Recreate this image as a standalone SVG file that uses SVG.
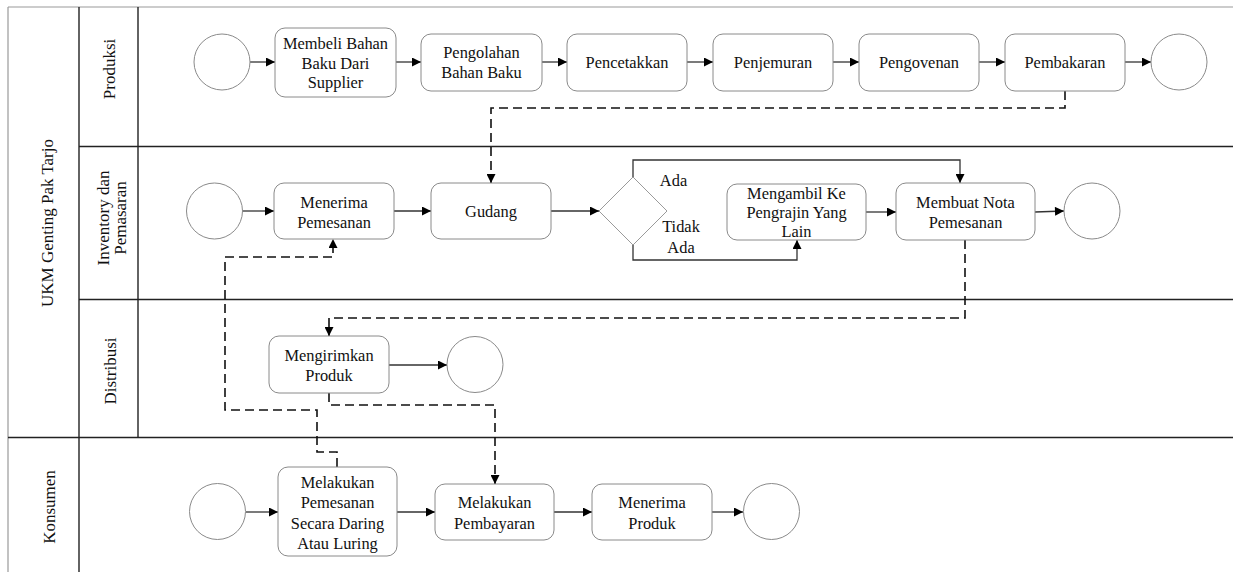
<svg xmlns="http://www.w3.org/2000/svg" width="1233" height="572" viewBox="0 0 1233 572">
<style>
text{font-family:"Liberation Serif","Times New Roman",serif;font-size:16.4px;fill:#111;text-anchor:middle;dominant-baseline:central}
.hd{font-size:17px}
.task{fill:#fff;stroke:#8a8a8a;stroke-width:1}
.ev{fill:#fff;stroke:#8a8a8a;stroke-width:1}
.gw{fill:#fff;stroke:#9a9a9a;stroke-width:1}
.lane{stroke:#222;stroke-width:1.4;fill:none}
.pool{stroke:#999;stroke-width:1.2;fill:none}
.flow{stroke:#333;stroke-width:1.3;fill:none;marker-end:url(#ah)}
.msg{stroke:#111;stroke-width:1.6;fill:none;stroke-dasharray:9 5;marker-end:url(#ah)}
</style>
<defs>
<marker id="ah" viewBox="0 0 10 10" refX="10" refY="5" markerWidth="10" markerHeight="9" markerUnits="userSpaceOnUse" orient="auto"><path d="M0,0 L10,5 L0,10 z" fill="#000"/></marker>
</defs>
<rect width="1233" height="572" fill="#fff"/>
<g id="pool">
<line class="pool" x1="8" y1="7" x2="1233" y2="7"/>
<line class="pool" x1="8" y1="7" x2="8" y2="572"/>
<line class="lane" x1="79" y1="7" x2="79" y2="572"/>
<line class="lane" x1="138" y1="7" x2="138" y2="437.5"/>
<line class="lane" x1="79" y1="146.5" x2="1233" y2="146.5"/>
<line class="lane" x1="79" y1="299.5" x2="1233" y2="299.5"/>
<line class="lane" x1="8" y1="437.5" x2="1233" y2="437.5"/>
<text class="hd" transform="translate(47,223) rotate(-90)">UKM Genting Pak Tarjo</text>
<text class="hd" transform="translate(109.5,69) rotate(-90)">Produksi</text>
<text class="hd" transform="translate(111.5,218) rotate(-90)"><tspan x="0" y="-8.5">Inventory dan</tspan><tspan x="0" y="8.5">Pemasaran</tspan></text>
<text class="hd" transform="translate(110,371) rotate(-90)">Distribusi</text>
<text class="hd" transform="translate(49,507) rotate(-90)">Konsumen</text>
</g>
<g id="connectors">
<path class="flow" d="M250,62 H275"/>
<path class="flow" d="M396,62 H421"/>
<path class="flow" d="M542,62 H567"/>
<path class="flow" d="M687,62 H713"/>
<path class="flow" d="M833,62 H859"/>
<path class="flow" d="M979,62 H1005"/>
<path class="flow" d="M1125,62 H1151"/>
<path class="flow" d="M242.5,211 H274"/>
<path class="flow" d="M394,211 H431"/>
<path class="flow" d="M551,211 H599"/>
<path class="flow" d="M633,177 V160 H960 V183"/>
<path class="flow" d="M633,245 V260 H797 V240"/>
<path class="flow" d="M866,212 H896"/>
<path class="flow" d="M1035,212 L1064,211"/>
<path class="flow" d="M389,365 H447"/>
<path class="flow" d="M246,512 H278"/>
<path class="flow" d="M397,512 H435"/>
<path class="flow" d="M554,512 H592"/>
<path class="flow" d="M712,512 H743"/>
<path class="msg" d="M1065,91 V108 H491 V183"/>
<path class="msg" d="M965,240 V318 H329 V336"/>
<path class="msg" d="M329,393 V405 H495 V484"/>
<path class="msg" d="M337,467 V452 H317 V410 H225 V257 H333 V239"/>
<text x="673.5" y="180">Ada</text>
<text x="681" y="226">Tidak</text>
<text x="681" y="247">Ada</text>
</g>
<g id="p_start"><circle class="ev" cx="222" cy="62" r="28"/></g>
<g id="p1"><rect class="task" x="275" y="28" width="121" height="69" rx="10"/><text x="335.5" y="43">Membeli Bahan</text><text x="335.5" y="63">Baku Dari</text><text x="335.5" y="82">Supplier</text></g>
<g id="p2"><rect class="task" x="421" y="34" width="121" height="57" rx="10"/><text x="481.5" y="52">Pengolahan</text><text x="481.5" y="72">Bahan Baku</text></g>
<g id="p3"><rect class="task" x="567" y="34" width="120" height="57" rx="10"/><text x="627" y="62">Pencetakkan</text></g>
<g id="p4"><rect class="task" x="713" y="34" width="120" height="57" rx="10"/><text x="773" y="62">Penjemuran</text></g>
<g id="p5"><rect class="task" x="859" y="34" width="120" height="57" rx="10"/><text x="919" y="62">Pengovenan</text></g>
<g id="p6"><rect class="task" x="1005" y="34" width="120" height="57" rx="10"/><text x="1065" y="62">Pembakaran</text></g>
<g id="p_end"><circle class="ev" cx="1179" cy="62" r="28"/></g>
<g id="i_start"><circle class="ev" cx="214.5" cy="211" r="28"/></g>
<g id="i1"><rect class="task" x="274" y="183" width="120" height="56" rx="10"/><text x="334" y="202">Menerima</text><text x="334" y="222">Pemesanan</text></g>
<g id="i2"><rect class="task" x="431" y="183" width="120" height="56" rx="10"/><text x="491" y="211">Gudang</text></g>
<g id="gw"><polygon class="gw" points="599,211 633,177 667,211 633,245"/></g>
<g id="i3"><rect class="task" x="727" y="184" width="139" height="56" rx="10"/><text x="796.5" y="193">Mengambil Ke</text><text x="796.5" y="212">Pengrajin Yang</text><text x="796.5" y="231">Lain</text></g>
<g id="i4"><rect class="task" x="896" y="183" width="139" height="57" rx="10"/><text x="965.5" y="202">Membuat Nota</text><text x="965.5" y="222">Pemesanan</text></g>
<g id="i_end"><circle class="ev" cx="1092" cy="211" r="28"/></g>
<g id="d1"><rect class="task" x="269" y="336" width="120" height="57" rx="10"/><text x="329" y="355">Mengirimkan</text><text x="329" y="375">Produk</text></g>
<g id="d_end"><circle class="ev" cx="475" cy="364.5" r="28"/></g>
<g id="k_start"><circle class="ev" cx="217.5" cy="511.5" r="28"/></g>
<g id="k1"><rect class="task" x="278" y="467" width="119" height="89" rx="10"/><text x="337.5" y="482">Melakukan</text><text x="337.5" y="502">Pemesanan</text><text x="337.5" y="523">Secara Daring</text><text x="337.5" y="543">Atau Luring</text></g>
<g id="k2"><rect class="task" x="435" y="484" width="119" height="56" rx="10"/><text x="494.5" y="502">Melakukan</text><text x="494.5" y="523">Pembayaran</text></g>
<g id="k3"><rect class="task" x="592" y="484" width="120" height="56" rx="10"/><text x="652" y="502">Menerima</text><text x="652" y="523">Produk</text></g>
<g id="k_end"><circle class="ev" cx="771.5" cy="511.5" r="28"/></g>
</svg>
